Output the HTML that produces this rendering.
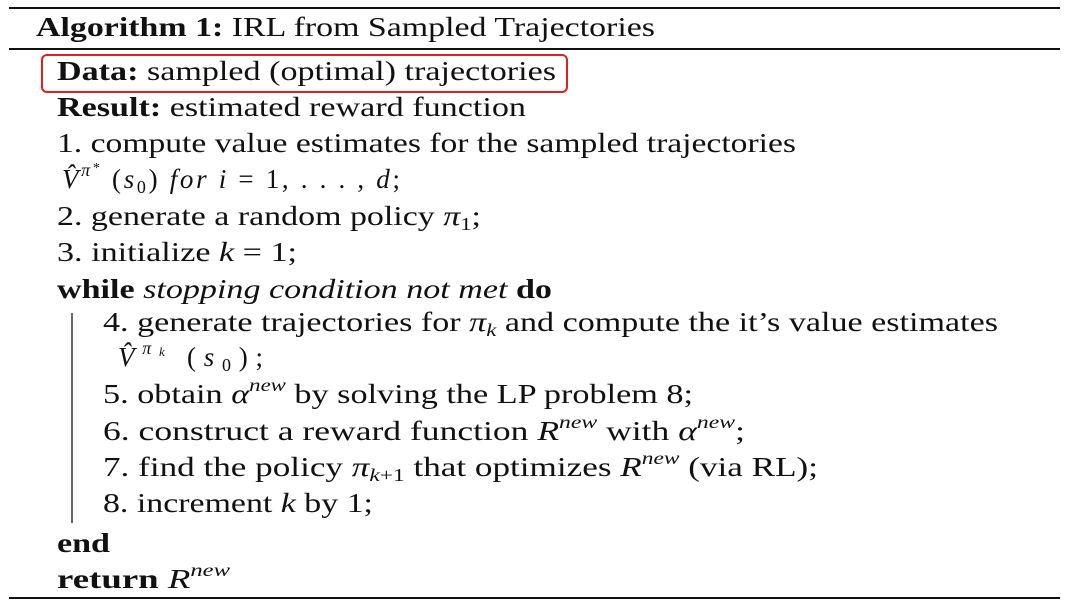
<!DOCTYPE html>
<html><head><meta charset="utf-8"><style>
html,body{margin:0;padding:0;background:#fff;width:1071px;height:608px;overflow:hidden}
svg text{font-family:"Liberation Serif",serif;font-size:27px;fill:#111}
.b{font-weight:bold}.i{font-style:italic}
</style></head><body>
<svg width="1071" height="608" viewBox="0 0 1071 608">
<line x1="9" y1="8" x2="1060" y2="8" stroke="#111" stroke-width="2"/>
<line x1="9" y1="49" x2="1060" y2="49" stroke="#111" stroke-width="2"/>
<line x1="9" y1="598" x2="1060" y2="598" stroke="#111" stroke-width="2"/>
<line x1="72" y1="313" x2="72" y2="523" stroke="#333" stroke-width="1.5"/>
<rect x="42" y="55" width="525" height="37" rx="5" fill="none" stroke="#e02020" stroke-width="2"/>

<text x="36" y="36" textLength="619" lengthAdjust="spacingAndGlyphs"><tspan class="b">Algorithm 1:</tspan> IRL from Sampled Trajectories</text>
<text x="57" y="80" textLength="499" lengthAdjust="spacingAndGlyphs"><tspan class="b">Data:</tspan> sampled (optimal) trajectories</text>
<text x="57" y="116" textLength="469" lengthAdjust="spacingAndGlyphs"><tspan class="b">Result:</tspan> estimated reward function</text>
<text x="57" y="152" textLength="739" lengthAdjust="spacingAndGlyphs">1. compute value estimates for the sampled trajectories</text>
<text x="62" y="188" textLength="338" lengthAdjust="spacing"><tspan class="i">V̂</tspan><tspan class="i" font-size="18" dy="-12">π</tspan><tspan font-size="14" dy="-4">*</tspan><tspan dy="16"> (</tspan><tspan class="i">s</tspan><tspan font-size="18" dy="5">0</tspan><tspan dy="-5">)  </tspan><tspan class="i">for  i</tspan>  =  1, . . . , <tspan class="i">d</tspan>;</text>
<text x="57" y="225" textLength="424" lengthAdjust="spacingAndGlyphs">2. generate a random policy <tspan class="i">π</tspan><tspan font-size="18" dy="5">1</tspan><tspan dy="-5">;</tspan></text>
<text x="57" y="261" textLength="240" lengthAdjust="spacingAndGlyphs">3. initialize <tspan class="i">k</tspan> = 1;</text>
<text x="57" y="298" textLength="495" lengthAdjust="spacingAndGlyphs"><tspan class="b">while</tspan> <tspan class="i">stopping condition not met</tspan> <tspan class="b">do</tspan></text>
<text x="103" y="331" textLength="895" lengthAdjust="spacingAndGlyphs">4. generate trajectories for <tspan class="i">π</tspan><tspan class="i" font-size="18" dy="5">k</tspan><tspan dy="-5"> and compute the it’s value estimates</tspan></text>
<text x="118" y="366" textLength="145" lengthAdjust="spacing"><tspan class="i">V̂</tspan><tspan class="i" font-size="18" dy="-12">π</tspan><tspan class="i" font-size="13" dy="2">k</tspan><tspan dy="10"> (</tspan><tspan class="i">s</tspan><tspan font-size="18" dy="5">0</tspan><tspan dy="-5">);</tspan></text>
<text x="103" y="403" textLength="590" lengthAdjust="spacingAndGlyphs">5. obtain <tspan class="i">α</tspan><tspan class="i" font-size="18" dy="-12">new</tspan><tspan dy="12"> by solving the LP problem 8;</tspan></text>
<text x="103" y="440" textLength="642" lengthAdjust="spacingAndGlyphs">6. construct a reward function <tspan class="i">R</tspan><tspan class="i" font-size="18" dy="-12">new</tspan><tspan dy="12"> with </tspan><tspan class="i">α</tspan><tspan class="i" font-size="18" dy="-12">new</tspan><tspan dy="12">;</tspan></text>
<text x="103" y="476" textLength="715" lengthAdjust="spacingAndGlyphs">7. find the policy <tspan class="i">π</tspan><tspan class="i" font-size="18" dy="5">k</tspan><tspan font-size="18">+1</tspan><tspan dy="-5"> that optimizes </tspan><tspan class="i">R</tspan><tspan class="i" font-size="18" dy="-12">new</tspan><tspan dy="12"> (via RL);</tspan></text>
<text x="103" y="512" textLength="270" lengthAdjust="spacingAndGlyphs">8. increment <tspan class="i">k</tspan> by 1;</text>
<text x="57" y="552" class="b" textLength="53" lengthAdjust="spacingAndGlyphs">end</text>
<text x="57" y="588" textLength="173" lengthAdjust="spacingAndGlyphs"><tspan class="b">return</tspan> <tspan class="i">R</tspan><tspan class="i" font-size="18" dy="-12">new</tspan></text>
</svg>
</body></html>
